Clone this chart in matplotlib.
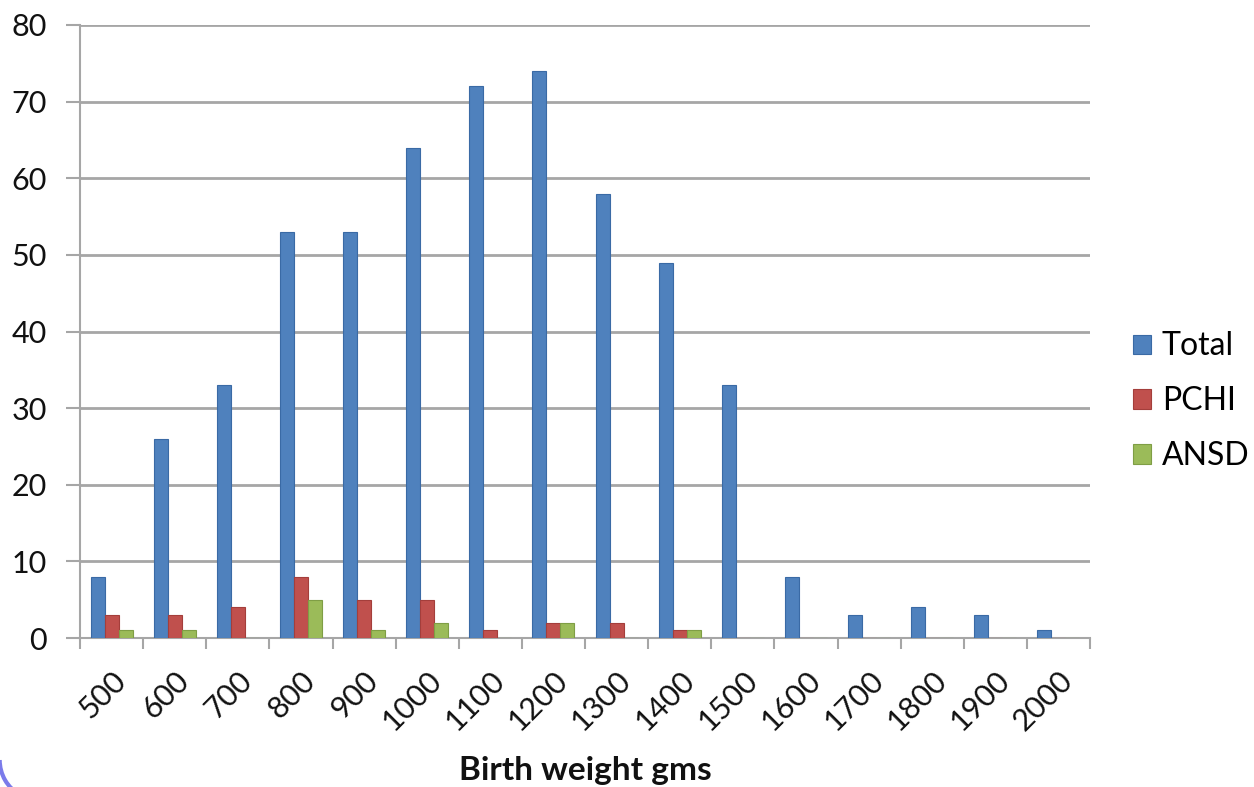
import matplotlib
matplotlib.use("Agg")
import matplotlib.pyplot as plt
import numpy as np
from matplotlib.patches import Arc

categories = ["500", "600", "700", "800", "900", "1000", "1100", "1200",
              "1300", "1400", "1500", "1600", "1700", "1800", "1900", "2000"]
total = [8, 26, 33, 53, 53, 64, 72, 74, 58, 49, 33, 8, 3, 4, 3, 1]
pchi = [3, 3, 4, 8, 5, 5, 1, 2, 2, 1, 0, 0, 0, 0, 0, 0]
ansd = [1, 1, 0, 5, 1, 2, 0, 2, 0, 1, 0, 0, 0, 0, 0, 0]
series_names = ["Total", "PCHI", "ANSD"]
colors = ["#4F81BD", "#C0504D", "#9BBB59"]
edges = ["#3A6AA5", "#A43E3B", "#7F9E45"]

plt.rcParams['font.family'] = ['Lato', 'DejaVu Sans']

W, H = 1254, 787
fig = plt.figure(figsize=(W / 100, H / 100), dpi=100)
ax = fig.add_axes([80 / W, (H - 638) / H, (1090 - 80) / W, (638 - 25) / H])

x = np.arange(len(categories))
bw = 0.222
for i, (vals, c, ec, name) in enumerate(zip([total, pchi, ansd], colors, edges, series_names)):
    ax.bar(x + (i - 1) * bw, vals, width=bw, color=c, edgecolor=ec, linewidth=0.8,
           label=name, zorder=3)

ax.set_xlim(-0.5, len(categories) - 0.5)
ax.set_ylim(0, 80)
ax.set_yticks(range(0, 81, 10))
ax.yaxis.grid(True, color="#A6A6A6", linewidth=2, zorder=0)
ax.set_axisbelow(True)

for s in ["top", "right"]:
    ax.spines[s].set_visible(False)
for s in ["left", "bottom"]:
    ax.spines[s].set_color("#A6A6A6")
    ax.spines[s].set_linewidth(1.5)

ax.tick_params(axis="y", length=10, width=1.5, color="#A6A6A6", labelsize=22, pad=14,
               labelcolor="#111111")
# category boundary ticks
ax.set_xticks(np.arange(-0.5, len(categories), 1.0), minor=False)
ax.set_xticklabels([])
ax.tick_params(axis="x", which="major", length=8, width=1.5, color="#A6A6A6")
ax.set_xticks(x, minor=True)
ax.set_xticklabels(categories, minor=True, rotation=45, ha="right", va="top",
                   rotation_mode="anchor", fontsize=22, color="#111111")
ax.tick_params(axis="x", which="minor", length=0, pad=20)

ax.set_xlabel("Birth weight gms", fontsize=24, fontweight="bold", labelpad=15,
              color="#111111")

leg = ax.legend(loc="center left", bbox_to_anchor=(1.0426, 0.386), frameon=False,
                fontsize=23, handlelength=0.55, handleheight=0.55, handletextpad=0.35,
                labelspacing=0.78, borderaxespad=0, borderpad=0)

arc = Arc((40, 27), 80.6, 80.6, theta1=180, theta2=240, transform=None,
          color="#7B7BEA", linewidth=3)
fig.patches.append(arc)

fig.savefig("out.png", dpi=100, facecolor="white")
